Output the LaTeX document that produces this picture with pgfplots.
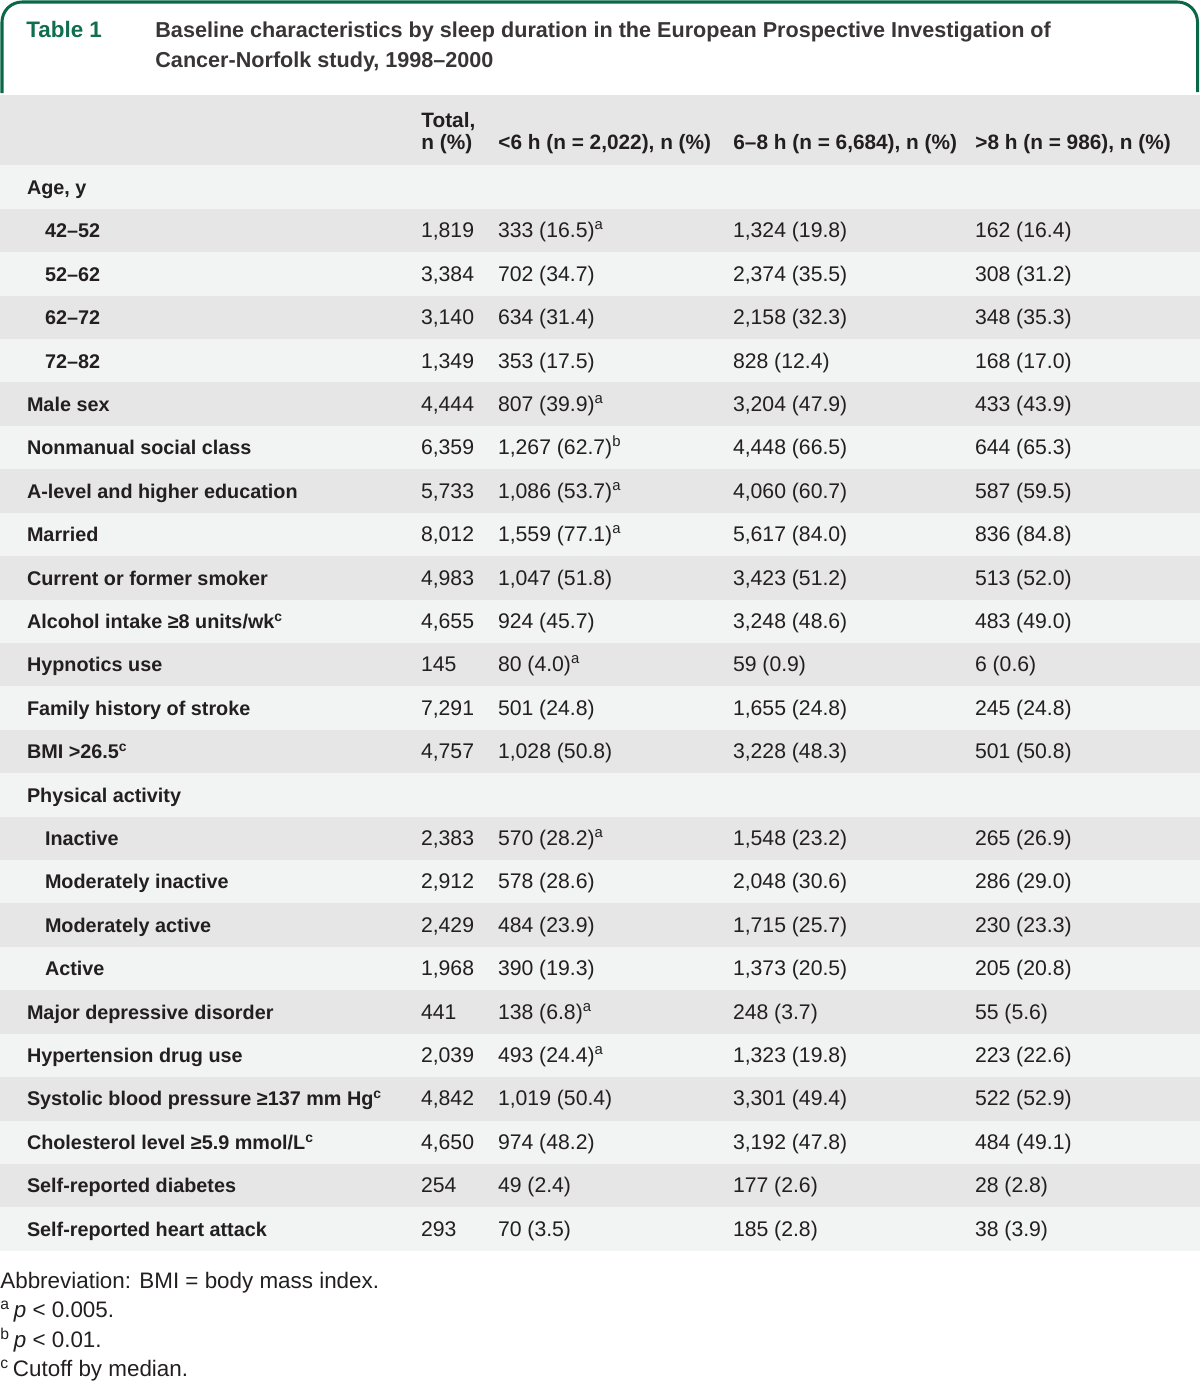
\documentclass[border=0pt]{standalone}
\usepackage{fontspec}
\setmainfont{Liberation Sans}
\usepackage{pgfplots}
\usepackage{pgfplotstable}
\pgfplotsset{compat=1.18}

\definecolor{txt}{RGB}{35,31,32}
\definecolor{darkrow}{RGB}{230,230,230}
\definecolor{lightrow}{RGB}{242,243,243}
\definecolor{frame}{RGB}{10,104,72}
\definecolor{tgreen}{RGB}{16,110,78}

\newcommand\supA{\textsuperscript{a}}
\newcommand\supB{\textsuperscript{b}}
\newcommand\supC{\textsuperscript{c}}

\pgfplotstableread[col sep=semicolon]{
r;lx;label
1;27;Age, y
2;45;42–52
3;45;52–62
4;45;62–72
5;45;72–82
6;27;Male sex
7;27;Nonmanual social class
8;27;A-level and higher education
9;27;Married
10;27;Current or former smoker
11;27;Alcohol intake ≥8 units/wk\supC
12;27;Hypnotics use
13;27;Family history of stroke
14;27;BMI >26.5\supC
15;27;Physical activity
16;45;Inactive
17;45;Moderately inactive
18;45;Moderately active
19;45;Active
20;27;Major depressive disorder
21;27;Hypertension drug use
22;27;Systolic blood pressure ≥137 mm Hg\supC
23;27;Cholesterol level ≥5.9 mmol/L\supC
24;27;Self-reported diabetes
25;27;Self-reported heart attack
}\labeltab

\pgfplotstableread[col sep=semicolon]{
r;tot;c1;c2;c3
2;1,819;333 (16.5)\supA;1,324 (19.8);162 (16.4)
3;3,384;702 (34.7);2,374 (35.5);308 (31.2)
4;3,140;634 (31.4);2,158 (32.3);348 (35.3)
5;1,349;353 (17.5);828 (12.4);168 (17.0)
6;4,444;807 (39.9)\supA;3,204 (47.9);433 (43.9)
7;6,359;1,267 (62.7)\supB;4,448 (66.5);644 (65.3)
8;5,733;1,086 (53.7)\supA;4,060 (60.7);587 (59.5)
9;8,012;1,559 (77.1)\supA;5,617 (84.0);836 (84.8)
10;4,983;1,047 (51.8);3,423 (51.2);513 (52.0)
11;4,655;924 (45.7);3,248 (48.6);483 (49.0)
12;145;80 (4.0)\supA;59 (0.9);6 (0.6)
13;7,291;501 (24.8);1,655 (24.8);245 (24.8)
14;4,757;1,028 (50.8);3,228 (48.3);501 (50.8)
16;2,383;570 (28.2)\supA;1,548 (23.2);265 (26.9)
17;2,912;578 (28.6);2,048 (30.6);286 (29.0)
18;2,429;484 (23.9);1,715 (25.7);230 (23.3)
19;1,968;390 (19.3);1,373 (20.5);205 (20.8)
20;441;138 (6.8)\supA;248 (3.7);55 (5.6)
21;2,039;493 (24.4)\supA;1,323 (19.8);223 (22.6)
22;4,842;1,019 (50.4);3,301 (49.4);522 (52.9)
23;4,650;974 (48.2);3,192 (47.8);484 (49.1)
24;254;49 (2.4);177 (2.6);28 (2.8)
25;293;70 (3.5);185 (2.8);38 (3.9)
}\datatab

\pgfplotsset{
  cellplot/.style={draw=none, mark=none, only marks, nodes near coords,
    point meta=explicit symbolic,
    every node near coord/.append style={anchor=base west, inner sep=0pt, outer sep=0pt, text=txt, #1}},
}

\begin{document}
\begin{tikzpicture}
\begin{axis}[
  hide axis, scale only axis, width=600pt, height=690.5pt,
  xmin=0, xmax=1200, ymin=0, ymax=1381, y dir=reverse, clip=false,
]
\path (axis cs:0,0) rectangle (axis cs:1200,1381);
% title frame
\draw[frame, line width=1.5pt, rounded corners=10pt]
  (axis cs:2,93) -- (axis cs:2,2) -- (axis cs:1197.5,2) -- (axis cs:1197.5,92);
\node[anchor=base west, inner sep=0pt, text=tgreen, font=\fontsize{11.2}{12}\selectfont\bfseries] at (axis cs:26,38) {Table 1};
\node[anchor=base west, inner sep=0pt, text=txt!90, font=\fontsize{10.8}{12}\selectfont\bfseries] at (axis cs:155,38) {Baseline characteristics by sleep duration in the European Prospective Investigation of};
\node[anchor=base west, inner sep=0pt, text=txt!90, font=\fontsize{10.8}{12}\selectfont\bfseries] at (axis cs:155,67) {Cancer-Norfolk study, 1998–2000};
% backgrounds
\fill[darkrow] (axis cs:0,94.5) rectangle (axis cs:1200,165.3);
\fill[lightrow] (axis cs:0,165.3) rectangle (axis cs:1200,1250.8);
\pgfplotsinvokeforeach{230.4,317.3,404.1,490.9,577.8,664.6,751.5,838.3,925.1,1012.0,1098.8,1185.7}{
  \fill[darkrow] (axis cs:0,#1-21.7) rectangle (axis cs:1200,#1+21.7);
}
% header
\begin{scope}[every node/.style={anchor=base west, inner sep=0pt, text=txt, font=\fontsize{10.4}{12}\selectfont\bfseries}]
\node at (axis cs:421,127.5) {Total,};
\node at (axis cs:421,149.5) {n (\%)};
\node at (axis cs:498,149.5) {<6 h (n = 2,022), n (\%)};
\node at (axis cs:733,149.5) {6–8 h (n = 6,684), n (\%)};
\node at (axis cs:975,149.5) {>8 h (n = 986), n (\%)};
\end{scope}
% labels
\addplot[cellplot={font=\fontsize{9.9}{12}\selectfont\bfseries}] table[x=lx, y expr={187+(\thisrow{r}-1)*43.4+7.5}, meta=label] {\labeltab};
% data
\addplot[cellplot={font=\fontsize{10.6}{12}\selectfont}] table[x expr=421, y expr={187+(\thisrow{r}-1)*43.4+7.5}, meta=tot] {\datatab};
\addplot[cellplot={font=\fontsize{10.6}{12}\selectfont}] table[x expr=498, y expr={187+(\thisrow{r}-1)*43.4+7.5}, meta=c1] {\datatab};
\addplot[cellplot={font=\fontsize{10.6}{12}\selectfont}] table[x expr=733, y expr={187+(\thisrow{r}-1)*43.4+7.5}, meta=c2] {\datatab};
\addplot[cellplot={font=\fontsize{10.6}{12}\selectfont}] table[x expr=975, y expr={187+(\thisrow{r}-1)*43.4+7.5}, meta=c3] {\datatab};
% footnotes
\begin{scope}[every node/.style={anchor=base west, inner sep=0pt, text=txt, font=\fontsize{11.2}{12}\selectfont}]
\node at (axis cs:0,1288) {Abbreviation: BMI = body mass index.};
\node at (axis cs:0,1317) {\textsuperscript{a}\,\textit{p} < 0.005.};
\node at (axis cs:0,1347) {\textsuperscript{b}\,\textit{p} < 0.01.};
\node at (axis cs:0,1376) {\textsuperscript{c}\,Cutoff by median.};
\end{scope}
\end{axis}
\end{tikzpicture}
\end{document}
